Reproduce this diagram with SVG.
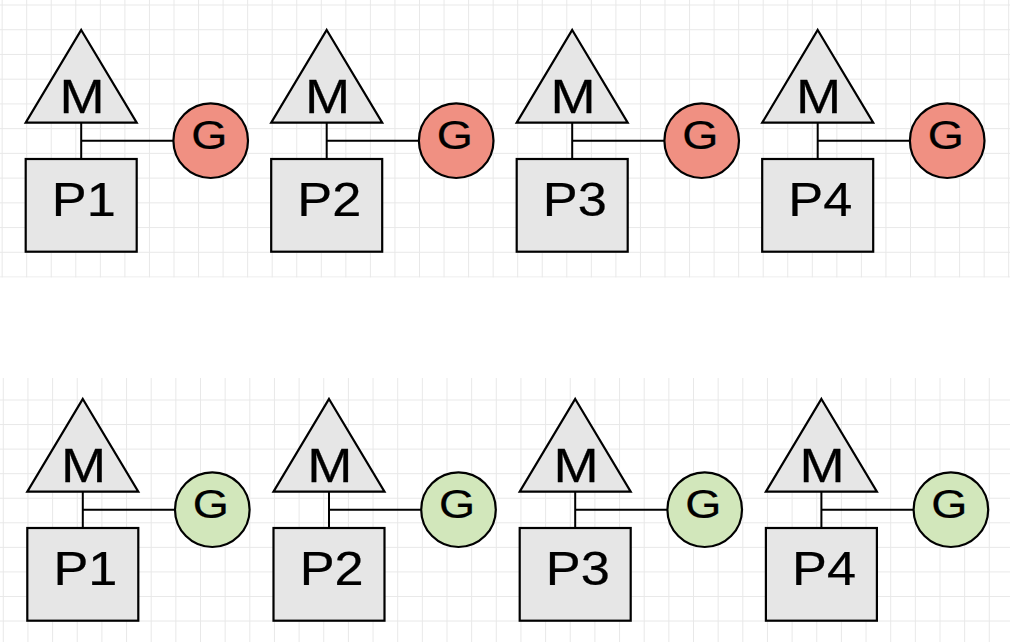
<svg xmlns="http://www.w3.org/2000/svg" width="1010" height="642" viewBox="0 0 1010 642">
<style>
.shape{fill:#e6e6e6;stroke:#000;stroke-width:2.2}
.red{fill:#f09082;stroke:#000;stroke-width:2.2}
.green{fill:#d2e7bb;stroke:#000;stroke-width:2.2}
.conn{stroke:#000;stroke-width:2;fill:none}
text{font-family:"Liberation Sans",Arial,sans-serif;fill:#000;stroke:#000;stroke-width:0.25;text-anchor:middle}
.tm{font-size:48px}
.tp{font-size:47.5px}
.tg{font-size:41.5px}
</style>
<defs>
<pattern id="gridTop" x="1.65" y="4.5" width="24.55" height="24.73" patternUnits="userSpaceOnUse">
<path d="M0 0.5H24.55M0.5 0V24.73" stroke="#e8e8e8" stroke-width="1" fill="none"/>
</pattern>
<pattern id="gridBot" x="2.8" y="374.94" width="24.65" height="24.56" patternUnits="userSpaceOnUse">
<path d="M0 0.5H24.65M0.5 0V24.56" stroke="#e8e8e8" stroke-width="1" fill="none"/>
</pattern>
</defs>
<rect width="1010" height="642" fill="#fff"/>
<rect x="0" y="0" width="1010" height="277.5" fill="url(#gridTop)"/>
<rect x="0" y="378" width="1010" height="264" fill="url(#gridBot)"/>

<g id="connectors">
<path class="conn" d="M81.2 122.7V159M81.2 140.7H173.4"/>
<path class="conn" d="M326.7 122.7V159M326.7 140.7H418.9"/>
<path class="conn" d="M572.2 122.7V159M572.2 140.7H664.4"/>
<path class="conn" d="M817.7 122.7V159M817.7 140.7H909.9"/>
<path class="conn" d="M82.8 491.7V528M82.8 509.7H175"/>
<path class="conn" d="M329 491.7V528M329 509.7H421.2"/>
<path class="conn" d="M575.2 491.7V528M575.2 509.7H667.4"/>
<path class="conn" d="M821.4 491.7V528M821.4 509.7H913.6"/>
</g>

<!-- top row -->
<g id="m1-top" transform="translate(0,0)">
<path class="shape" d="M81.2 30L136.7 122.7H25.7Z"/>
<text class="tm" transform="translate(82,112.5) scale(1.13,1)">M</text>
</g>
<g id="p1-top" transform="translate(0,0)">
<rect class="shape" x="25.7" y="159" width="111" height="92.7"/>
<text class="tp" transform="translate(83.8,216.3) scale(1.1,1)">P1</text>
</g>
<g id="g1-top" transform="translate(0,0)">
<circle class="red" cx="210.7" cy="140.7" r="37.3"/>
<text class="tg" transform="translate(209.2,149.3) scale(1.12,1)">G</text>
</g>

<g id="m2-top" transform="translate(245.5,0)">
<path class="shape" d="M81.2 30L136.7 122.7H25.7Z"/>
<text class="tm" transform="translate(82,112.5) scale(1.13,1)">M</text>
</g>
<g id="p2-top" transform="translate(245.5,0)">
<rect class="shape" x="25.7" y="159" width="111" height="92.7"/>
<text class="tp" transform="translate(83.8,216.3) scale(1.1,1)">P2</text>
</g>
<g id="g2-top" transform="translate(245.5,0)">
<circle class="red" cx="210.7" cy="140.7" r="37.3"/>
<text class="tg" transform="translate(209.2,149.3) scale(1.12,1)">G</text>
</g>

<g id="m3-top" transform="translate(491,0)">
<path class="shape" d="M81.2 30L136.7 122.7H25.7Z"/>
<text class="tm" transform="translate(82,112.5) scale(1.13,1)">M</text>
</g>
<g id="p3-top" transform="translate(491,0)">
<rect class="shape" x="25.7" y="159" width="111" height="92.7"/>
<text class="tp" transform="translate(83.8,216.3) scale(1.1,1)">P3</text>
</g>
<g id="g3-top" transform="translate(491,0)">
<circle class="red" cx="210.7" cy="140.7" r="37.3"/>
<text class="tg" transform="translate(209.2,149.3) scale(1.12,1)">G</text>
</g>

<g id="m4-top" transform="translate(736.5,0)">
<path class="shape" d="M81.2 30L136.7 122.7H25.7Z"/>
<text class="tm" transform="translate(82,112.5) scale(1.13,1)">M</text>
</g>
<g id="p4-top" transform="translate(736.5,0)">
<rect class="shape" x="25.7" y="159" width="111" height="92.7"/>
<text class="tp" transform="translate(83.8,216.3) scale(1.1,1)">P4</text>
</g>
<g id="g4-top" transform="translate(736.5,0)">
<circle class="red" cx="210.7" cy="140.7" r="37.3"/>
<text class="tg" transform="translate(209.2,149.3) scale(1.12,1)">G</text>
</g>

<!-- bottom row -->
<g id="m1-bot" transform="translate(1.6,369)">
<path class="shape" d="M81.2 30L136.7 122.7H25.7Z"/>
<text class="tm" transform="translate(82,112.5) scale(1.13,1)">M</text>
</g>
<g id="p1-bot" transform="translate(1.6,369)">
<rect class="shape" x="25.7" y="159" width="111" height="92.7"/>
<text class="tp" transform="translate(83.8,216.3) scale(1.1,1)">P1</text>
</g>
<g id="g1-bot" transform="translate(1.6,369)">
<circle class="green" cx="210.7" cy="140.7" r="37.3"/>
<text class="tg" transform="translate(209.2,149.3) scale(1.12,1)">G</text>
</g>

<g id="m2-bot" transform="translate(247.8,369)">
<path class="shape" d="M81.2 30L136.7 122.7H25.7Z"/>
<text class="tm" transform="translate(82,112.5) scale(1.13,1)">M</text>
</g>
<g id="p2-bot" transform="translate(247.8,369)">
<rect class="shape" x="25.7" y="159" width="111" height="92.7"/>
<text class="tp" transform="translate(83.8,216.3) scale(1.1,1)">P2</text>
</g>
<g id="g2-bot" transform="translate(247.8,369)">
<circle class="green" cx="210.7" cy="140.7" r="37.3"/>
<text class="tg" transform="translate(209.2,149.3) scale(1.12,1)">G</text>
</g>

<g id="m3-bot" transform="translate(494,369)">
<path class="shape" d="M81.2 30L136.7 122.7H25.7Z"/>
<text class="tm" transform="translate(82,112.5) scale(1.13,1)">M</text>
</g>
<g id="p3-bot" transform="translate(494,369)">
<rect class="shape" x="25.7" y="159" width="111" height="92.7"/>
<text class="tp" transform="translate(83.8,216.3) scale(1.1,1)">P3</text>
</g>
<g id="g3-bot" transform="translate(494,369)">
<circle class="green" cx="210.7" cy="140.7" r="37.3"/>
<text class="tg" transform="translate(209.2,149.3) scale(1.12,1)">G</text>
</g>

<g id="m4-bot" transform="translate(740.2,369)">
<path class="shape" d="M81.2 30L136.7 122.7H25.7Z"/>
<text class="tm" transform="translate(82,112.5) scale(1.13,1)">M</text>
</g>
<g id="p4-bot" transform="translate(740.2,369)">
<rect class="shape" x="25.7" y="159" width="111" height="92.7"/>
<text class="tp" transform="translate(83.8,216.3) scale(1.1,1)">P4</text>
</g>
<g id="g4-bot" transform="translate(740.2,369)">
<circle class="green" cx="210.7" cy="140.7" r="37.3"/>
<text class="tg" transform="translate(209.2,149.3) scale(1.12,1)">G</text>
</g>
</svg>
